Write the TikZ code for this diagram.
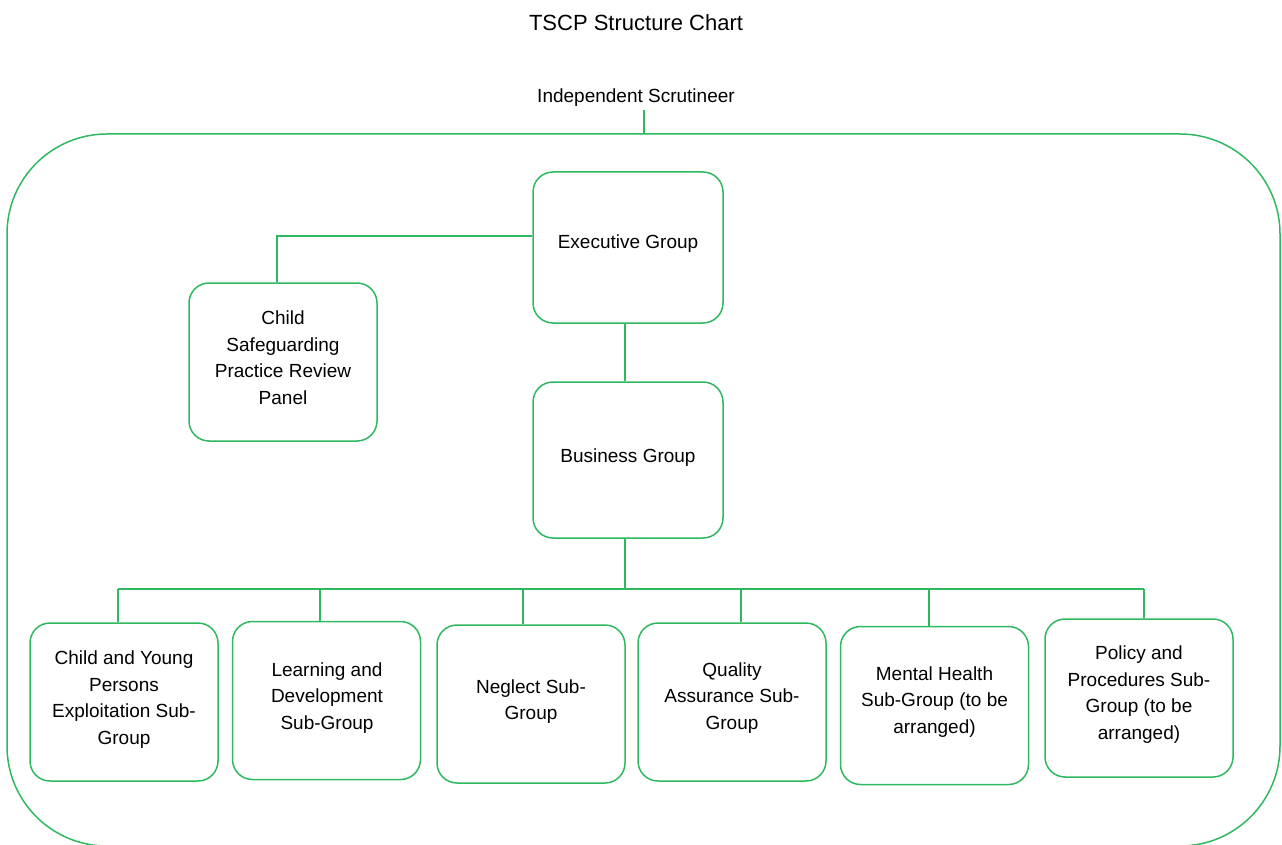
\documentclass[tikz,border=0pt]{standalone}
\usepackage{fontspec}
\setmainfont{Liberation Sans}
\definecolor{lg}{RGB}{46,184,96}
\begin{document}
\begin{tikzpicture}[x=1pt,y=-1pt,
  edge/.style={draw=lg, line width=1.5pt},
  box/.style={draw=lg, line width=1.5pt, rounded corners=20pt, inner sep=0pt},
  txt/.style={align=center, font=\fontsize{19}{26.5}\selectfont, text=black, inner sep=0pt}]
\useasboundingbox (0,0) rectangle (1282,845);
% title and scrutineer
\node[txt, font=\fontsize{22}{26}\selectfont] (title) at (636,23) {TSCP Structure Chart};
\node[txt] (scrut) at (636,97.5) {Independent Scrutineer};
% outer frame
\draw[edge, rounded corners=100pt] (7,134) rectangle (1280,846);
\coordinate (jstop) at (644,110);
\coordinate (js) at (644,134);
\draw[edge] (jstop) -- (js);
% main boxes
\node[box, minimum width=190pt, minimum height=151pt] (exec) at (628,247.5) {};
\node[txt] (exect) at (628,243.5) {Executive Group};
\node[box, minimum width=190pt, minimum height=156pt] (bus) at (628,460) {};
\node[txt] (bust) at (628,457.5) {Business Group};
\node[box, minimum width=188pt, minimum height=158pt] (csp) at (283,362) {};
\node[txt] (cspt) at (283,357.5) {Child\\Safeguarding\\Practice Review\\Panel};
% bottom boxes
\node[box, minimum width=188pt, minimum height=158pt] (b1) at (124,702) {};
\node[txt] (b1t) at (124,699.5) {Child and Young\\Persons\\Exploitation Sub-\\Group};
\node[box, minimum width=188pt, minimum height=158pt] (b2) at (326.5,700.5) {};
\node[txt] (b2t) at (327,698) {Learning and\\Development\\Sub-Group};
\node[box, minimum width=188pt, minimum height=158pt] (b3) at (531,704) {};
\node[txt] (b3t) at (531,701.5) {Neglect Sub-\\Group};
\node[box, minimum width=188pt, minimum height=158pt] (b4) at (732,702) {};
\node[txt] (b4t) at (732,698) {Quality\\Assurance Sub-\\Group};
\node[box, minimum width=188pt, minimum height=158pt] (b5) at (934.5,705.5) {};
\node[txt] (b5t) at (934.5,702) {Mental Health\\Sub-Group (to be\\arranged)};
\node[box, minimum width=188pt, minimum height=158pt] (b6) at (1139,698) {};
\node[txt] (b6t) at (1139,694.5) {Policy and\\Procedures Sub-\\Group (to be\\arranged)};
% connectors
\coordinate (jc) at (277,236);
\draw[edge] (exec.west |- jc) -- (jc) -- (csp.north -| jc);
\coordinate (jb) at (625,589);
\draw[edge] (exec.south -| jb) -- (bus.north -| jb);
\draw[edge] (bus.south -| jb) -- (jb);
\coordinate (j1) at (118,589);
\coordinate (j2) at (320,589);
\coordinate (j3) at (523,589);
\coordinate (j4) at (741,589);
\coordinate (j5) at (929,589);
\coordinate (j6) at (1144,589);
\draw[edge] (j1) -- (j6);
\draw[edge] (j1) -- (b1.north -| j1);
\draw[edge] (j2) -- (b2.north -| j2);
\draw[edge] (j3) -- (b3.north -| j3);
\draw[edge] (j4) -- (b4.north -| j4);
\draw[edge] (j5) -- (b5.north -| j5);
\draw[edge] (j6) -- (b6.north -| j6);
\end{tikzpicture}
\end{document}
